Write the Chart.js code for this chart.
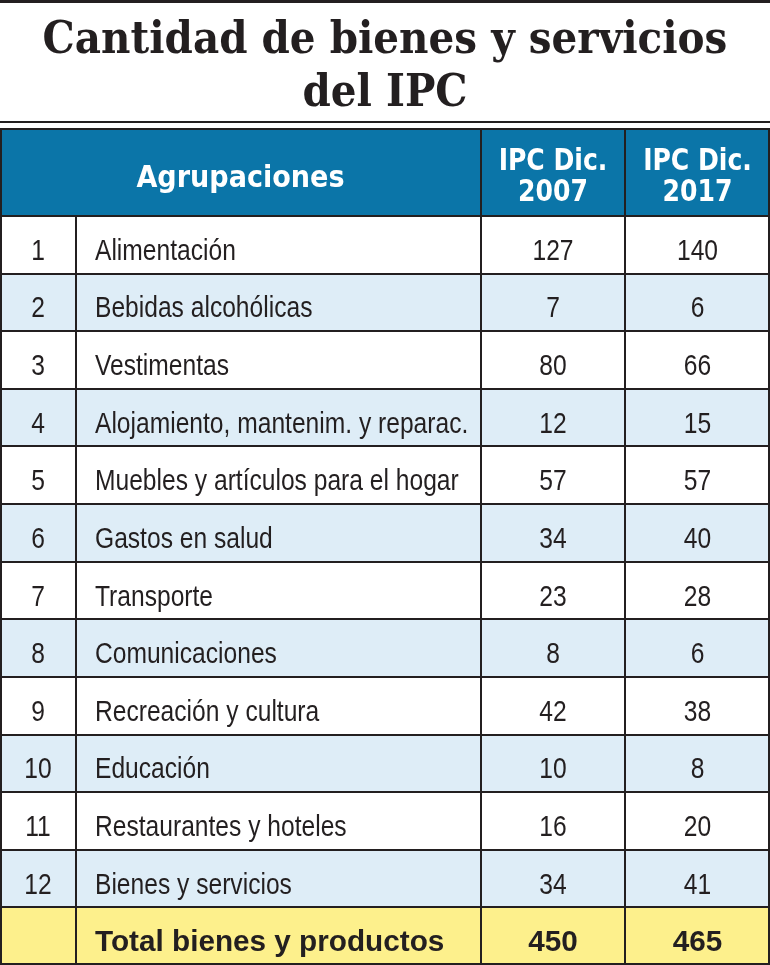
<!DOCTYPE html>
<html lang="es">
<head>
<meta charset="utf-8">
<title>Cantidad de bienes y servicios del IPC</title>
<script src="https://cdn.jsdelivr.net/npm/chart.js@4.4.1/dist/chart.umd.min.js"></script>
<style>
  html, body { margin: 0; padding: 0; background: #fff; }
  #wrap { width: 770px; height: 965px; }
</style>
</head>
<body>
<div id="wrap"><canvas id="tabla" width="770" height="965"></canvas></div>
<script>
// Datos de la tabla
const titulo = ['Cantidad de bienes y servicios', 'del IPC'];
const encabezados = [['Agrupaciones'], ['IPC Dic.', '2007'], ['IPC Dic.', '2017']];
const numeros = ['1', '2', '3', '4', '5', '6', '7', '8', '9', '10', '11', '12'];
const agrupaciones = [
    'Alimentación',
    'Bebidas alcohólicas',
    'Vestimentas',
    'Alojamiento, mantenim. y reparac.',
    'Muebles y artículos para el hogar',
    'Gastos en salud',
    'Transporte',
    'Comunicaciones',
    'Recreación y cultura',
    'Educación',
    'Restaurantes y hoteles',
    'Bienes y servicios'
];
const ipc2007 = [127, 7, 80, 12, 57, 34, 23, 8, 42, 10, 16, 34];
const ipc2017 = [140, 6, 66, 15, 57, 40, 28, 6, 38, 8, 20, 41];
const totalEtiqueta = 'Total bienes y productos';
const total2007 = 450;
const total2017 = 465;

// Diseño
const ANCHO = 770;
const bordes = [0, 76, 481, 625, 770];   // bordes de columna en la escala x
const ALTO_ENCABEZADO = 86;
const TOP_TABLA = 216;
const AZUL = '#0b75a8';
const CELESTE = '#deedf7';
const AMARILLO = '#fdf08c';
const TINTA = '#231f20';
const FUENTE_CUERPO = '"Liberation Sans", Arial, sans-serif';
const FUENTE_ENC = '"DejaVu Sans Condensed", "DejaVu Sans", sans-serif';

const filas = agrupaciones.concat([totalEtiqueta]);
const fondos = filas.map((_, i) => i === filas.length - 1 ? AMARILLO : (i % 2 ? CELESTE : '#ffffff'));

const columnas = [
    { textos: numeros.concat(['']), align: 'center' },
    { textos: filas, align: 'left' },
    { textos: ipc2007.concat([total2007]).map(String), align: 'center' },
    { textos: ipc2017.concat([total2017]).map(String), align: 'center' }
];

const datasets = columnas.map((col, c) => ({
    label: 'col' + c,
    data: filas.map(f => ({ x: [bordes[c], bordes[c + 1]], y: f })),
    backgroundColor: fondos,
    borderWidth: 0,
    inflateAmount: 0,
    grouped: false,
    categoryPercentage: 1,
    barPercentage: 1,
    textos: col.textos,
    align: col.align
}));

// texto comprimido en horizontal (fuente condensada)
function texto(ctx, t, x, y, align, sx) {
    ctx.save();
    ctx.translate(x, y);
    ctx.scale(sx, 1);
    ctx.textAlign = align;
    ctx.fillText(t, 0, 0);
    ctx.restore();
}

// Encabezado, filetes y rejilla
const rejillaPlugin = {
    id: 'rejilla',
    afterDatasetsDraw(chart) {
        const ctx = chart.ctx;
        const xs = chart.scales.x;
        const { top, bottom } = chart.chartArea;
        const y0 = top - ALTO_ENCABEZADO;
        const px = bordes.map(b => Math.round(xs.getPixelForValue(b)));

        ctx.save();
        ctx.fillStyle = TINTA;
        ctx.fillRect(0, 0, ANCHO, 3);
        ctx.fillRect(0, 121, ANCHO, 2);

        ctx.fillStyle = AZUL;
        ctx.fillRect(px[0], y0, px[4] - px[0], ALTO_ENCABEZADO);

        // lineas de fila a partir de las barras
        const meta = chart.getDatasetMeta(0);
        const lineasY = [Math.round(top)];
        meta.data.forEach(bar => {
            const p = bar.getProps(['y', 'height'], true);
            lineasY.push(Math.round(p.y + p.height / 2));
        });

        ctx.fillStyle = TINTA;
        lineasY.forEach(y => ctx.fillRect(px[0], y - 1, px[4] - px[0], 2));
        ctx.fillRect(px[1] - 1, top, 2, bottom - top);
        ctx.fillRect(px[2] - 1, y0, 2, bottom - y0);
        ctx.fillRect(px[3] - 1, y0, 2, bottom - y0);
        ctx.lineWidth = 2;
        ctx.strokeStyle = TINTA;
        ctx.strokeRect(px[0] + 1, y0 - 1, px[4] - px[0] - 2, bottom - y0);

        ctx.fillStyle = '#ffffff';
        ctx.font = 'bold 31px ' + FUENTE_ENC;
        ctx.textBaseline = 'alphabetic';
        const spans = [[px[0], px[2]], [px[2], px[3]], [px[3], px[4]]];
        encabezados.forEach((lineas, i) => {
            const cx = (spans[i][0] + spans[i][1]) / 2;
            if (lineas.length === 1) {
                texto(ctx, lineas[0], cx, y0 + 57, 'center', 0.97);
            } else {
                lineas.forEach((t, j) => texto(ctx, t, cx, y0 + 40 + j * 31, 'center', 0.9));
            }
        });
        ctx.restore();
    }
};

// Textos de las celdas
const celdasPlugin = {
    id: 'celdas',
    afterDatasetsDraw(chart) {
        const ctx = chart.ctx;
        ctx.save();
        ctx.fillStyle = TINTA;
        ctx.textBaseline = 'alphabetic';
        chart.data.datasets.forEach((ds, d) => {
            const meta = chart.getDatasetMeta(d);
            meta.data.forEach((bar, i) => {
                const p = bar.getProps(['x', 'y', 'base'], true);
                const left = Math.min(p.x, p.base);
                const right = Math.max(p.x, p.base);
                const esTotal = i === filas.length - 1;
                ctx.font = (esTotal ? 'bold ' : '') + '30px ' + FUENTE_CUERPO;
                const tx = ds.align === 'left' ? left + 19 : (left + right) / 2;
                texto(ctx, ds.textos[i], tx, p.y + 15, ds.align, esTotal ? 0.99 : 0.82);
            });
        });
        ctx.restore();
    }
};

new Chart(document.getElementById('tabla'), {
    type: 'bar',
    data: { labels: filas, datasets: datasets },
    options: {
        indexAxis: 'y',
        responsive: false,
        animation: false,
        devicePixelRatio: 1,
        events: [],
        layout: { padding: 0 },
        scales: {
            x: { type: 'linear', min: bordes[0], max: bordes[bordes.length - 1], display: false },
            y: { type: 'category', labels: filas, offset: true, display: false }
        },
        plugins: {
            legend: { display: false },
            tooltip: { enabled: false },
            title: {
                display: true,
                text: titulo,
                color: TINTA,
                font: { family: '"DejaVu Serif Condensed", "DejaVu Serif", serif', weight: 'bold', size: 45, lineHeight: '53px' },
                padding: { top: 15, bottom: TOP_TABLA - 15 - 106 }
            }
        }
    },
    plugins: [rejillaPlugin, celdasPlugin]
});
</script>
</body>
</html>
